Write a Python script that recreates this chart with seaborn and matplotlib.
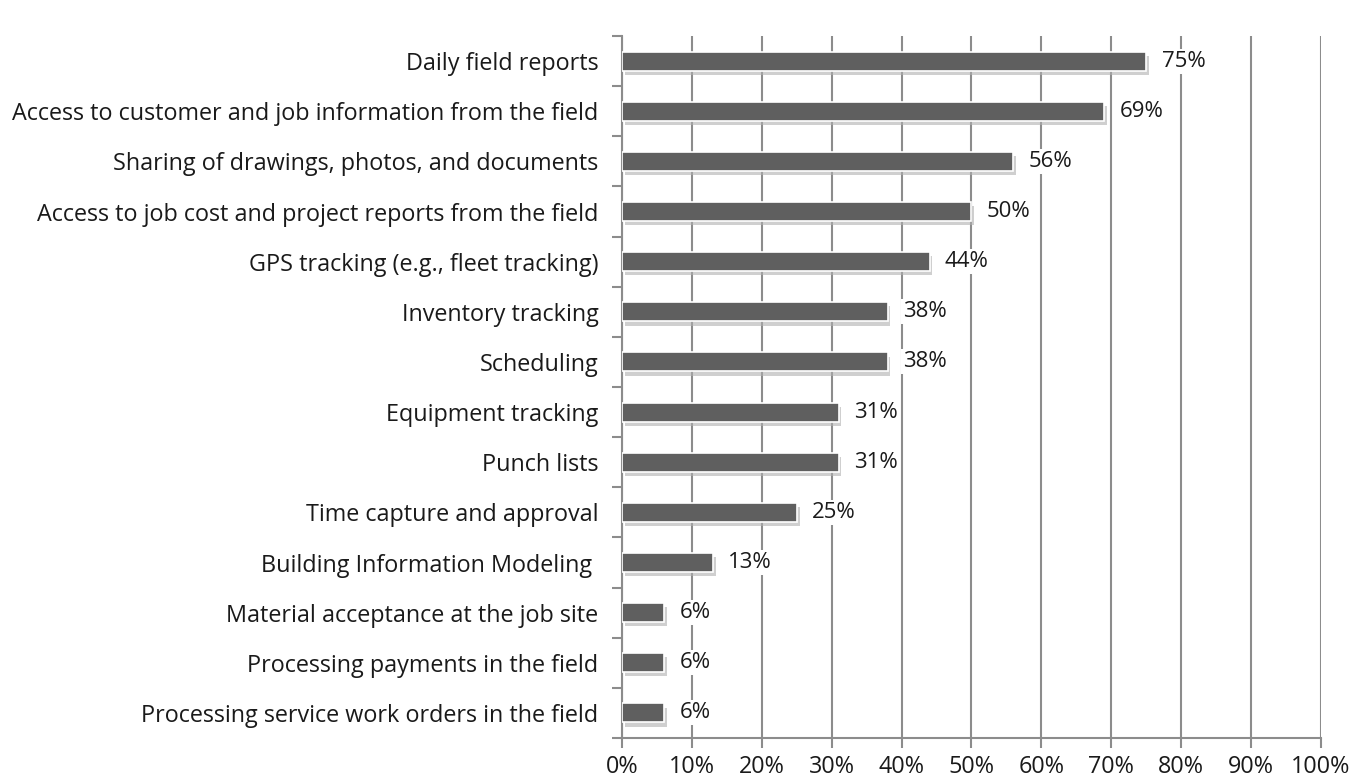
import matplotlib.pyplot as plt
import matplotlib.patheffects as pe
import seaborn as sns
import pandas as pd
from matplotlib.ticker import FixedLocator, PercentFormatter

features = [
    "Daily field reports",
    "Access to customer and job information from the field",
    "Sharing of drawings, photos, and documents",
    "Access to job cost and project reports from the field",
    "GPS tracking (e.g., fleet tracking)",
    "Inventory tracking",
    "Scheduling",
    "Equipment tracking",
    "Punch lists",
    "Time capture and approval",
    "Building Information Modeling ",
    "Material acceptance at the job site",
    "Processing payments in the field",
    "Processing service work orders in the field",
]
shares = [75, 69, 56, 50, 44, 38, 38, 31, 31, 25, 13, 6, 6, 6]

sns.set_style("white")
plt.rcParams["font.family"] = ["Open Sans", "DejaVu Sans"]

df = pd.DataFrame({"Feature": features, "Share": shares})

fig = plt.figure(figsize=(13.68, 7.84), dpi=100)
ax = fig.add_axes([0.4547, 0.0587, 0.5109, 0.8953])

sns.barplot(data=df, x="Share", y="Feature", color="#5f5f5f", saturation=1,
            width=0.38, edgecolor="white", linewidth=1.2, ax=ax, zorder=3)
for bar in ax.patches:
    bar.set_path_effects([pe.SimplePatchShadow(offset=(2, -3), shadow_rgbFace="#b0b0b0", alpha=0.6),
                          pe.Normal()])

for i, v in enumerate(shares):
    ax.text(v + 2.2, i, f"{v}%", va="center", ha="left", fontsize=16, color="#1a1a1a", zorder=4,
            bbox=dict(facecolor="white", edgecolor="none", pad=1.5))

ax.set_xlim(0, 100)
ax.set_ylim(len(features) - 0.5, -0.5)
ax.xaxis.set_major_locator(FixedLocator(range(0, 101, 10)))
ax.xaxis.set_major_formatter(PercentFormatter(decimals=0))
ax.grid(axis="x", color="#8c8c8c", linewidth=1.5, zorder=0)
ax.set_axisbelow(True)

ax.yaxis.set_minor_locator(FixedLocator([i + 0.5 for i in range(-1, len(features))]))
ax.tick_params(axis="y", which="major", length=0, pad=17, labelsize=16.8, labelcolor="#1a1a1a")
ax.tick_params(axis="y", which="minor", length=7, width=1.5, color="#8c8c8c", direction="out", left=True)
ax.tick_params(axis="x", which="major", length=7, width=1.5, color="#8c8c8c", direction="out",
               bottom=True, pad=5, labelsize=16.8, labelcolor="#1a1a1a")

for side in ["top", "right"]:
    ax.spines[side].set_visible(False)
ax.spines["left"].set_color("#8c8c8c")
ax.spines["left"].set_linewidth(1.5)
ax.spines["bottom"].set_color("#8c8c8c")
ax.spines["bottom"].set_linewidth(1.5)
ax.set_xlabel("")
ax.set_ylabel("")

plt.savefig("out.png", dpi=100)
